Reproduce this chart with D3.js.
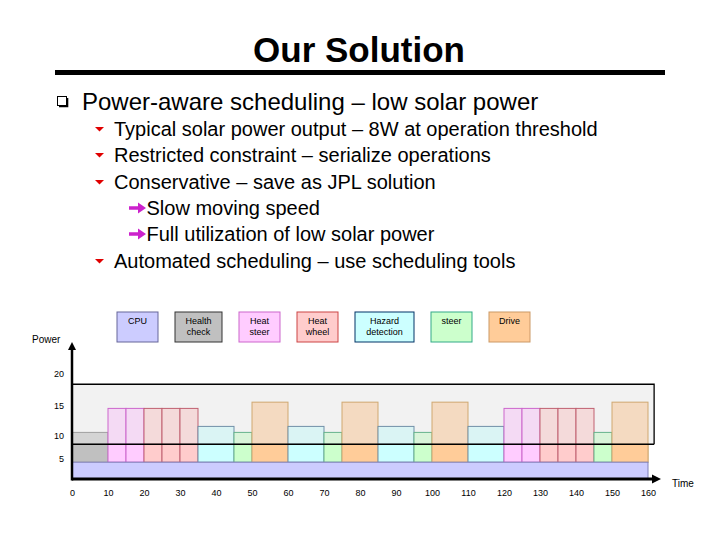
<!DOCTYPE html>
<html>
<head>
<meta charset="utf-8">
<script src="https://cdn.jsdelivr.net/npm/d3@7/dist/d3.min.js"></script>
<style>
  html, body { margin: 0; padding: 0; background: #ffffff; }
  svg { display: block; font-family: "Liberation Sans", Arial, Helvetica, sans-serif; }
</style>
</head>
<body>
<svg id="chart" width="720" height="540"></svg>
<script>
// ---------------- DATA ----------------
const titleText = "Our Solution";
const mainBullet = "Power-aware scheduling – low solar power";
const subBullets = [
  {level: 1, text: "Typical solar power output – 8W at operation threshold"},
  {level: 1, text: "Restricted constraint – serialize operations"},
  {level: 1, text: "Conservative – save as JPL solution"},
  {level: 2, text: "Slow moving speed"},
  {level: 2, text: "Full utilization of low solar power"},
  {level: 1, text: "Automated scheduling – use scheduling tools"}
];

// tasks (legend order) and the power level each one reaches when running
const taskNames  = ["CPU", "Health check", "Heat steer", "Heat wheel", "Hazard detection", "steer", "Drive"];
const taskLabels = [["CPU"], ["Health", "check"], ["Heat", "steer"], ["Heat", "wheel"], ["Hazard", "detection"], ["steer"], ["Drive"]];
const taskTop    = [4.2, 10.6, 14.6, 14.6, 11.6, 10.6, 15.6];

// schedule: each segment runs one task (index into taskNames) from start to end
const segStart = [0, 10, 15, 20, 25, 30, 35, 45, 50, 60, 70, 75, 85, 95, 100, 110, 120, 125, 130, 135, 140, 145, 150];
const segEnd   = [10, 15, 20, 25, 30, 35, 45, 50, 60, 70, 75, 85, 95, 100, 110, 120, 125, 130, 135, 140, 145, 150, 160];
const segTask  = [1, 2, 2, 3, 3, 3, 4, 5, 6, 4, 5, 6, 4, 5, 6, 4, 2, 2, 3, 3, 3, 5, 6];

const cpuStart = 0, cpuEnd = 160;          // CPU always on
const solarThreshold = 8.2;                 // solar power level (W)
const batteryTop = 18.4;                    // upper limit of battery-assisted region
const batteryEnd = 161.7;

const xTicks = [0, 10, 20, 30, 40, 50, 60, 70, 80, 90, 100, 110, 120, 130, 140, 150, 160];
const yTicks = [5, 10, 15, 20];

// ---------------- STYLE ----------------
const taskFill   = ["#ccccff", "#c0c0c0", "#ffccff", "#ffcccc", "#ccffff", "#ccffcc", "#ffcc99"];
const taskStroke = ["#8080b8", "#a0a0a0", "#cc66cc", "#c06070", "#7090a8", "#66b38c", "#d0a870"];
const legendStroke = ["#666699", "#333333", "#cc66cc", "#cc4444", "#003366", "#33aa88", "#cc9966"];
const fadeMix = c => d3.interpolateRgb(c, "#e8e8e8")(0.5);

const svg = d3.select("#chart");
const font = "'Liberation Sans', Arial, Helvetica, sans-serif";

// ---------------- TITLE ----------------
svg.append("text").attr("x", 359).attr("y", 62)
  .attr("text-anchor", "middle").attr("font-size", 35).attr("font-weight", "bold")
  .attr("fill", "#000").text(titleText);
svg.append("rect").attr("x", 55).attr("y", 70).attr("width", 610).attr("height", 5).attr("fill", "#000");

// ---------------- BULLETS ----------------
// square bullet with shadow
svg.append("rect").attr("x", 57.5).attr("y", 96.5).attr("width", 9).attr("height", 9)
  .attr("fill", "#fff").attr("stroke", "#000").attr("stroke-width", 1);
svg.append("path").attr("d", "M59,106.5 L67.5,106.5 L67.5,98").attr("fill", "none")
  .attr("stroke", "#000").attr("stroke-width", 1.6);
svg.append("text").attr("x", 82).attr("y", 109.5).attr("font-size", 24).attr("fill", "#000").text(mainBullet);

const subBase = [136, 162, 189, 215, 241, 268];
subBullets.forEach((b, i) => {
  const by = subBase[i];
  if (b.level === 1) {
    svg.append("path")
      .attr("d", `M95,${by - 9} L104,${by - 9} L99.5,${by - 4.5} Z`)
      .attr("fill", "#e00000");
    svg.append("text").attr("x", 114).attr("y", by).attr("font-size", 20).attr("fill", "#000").text(b.text);
  } else {
    const cy = by - 7;
    svg.append("path")
      .attr("d", `M129,${cy - 1.7} L138,${cy - 1.7} L138,${cy - 5.5} L146,${cy} L138,${cy + 5.5} L138,${cy + 1.7} L129,${cy + 1.7} Z`)
      .attr("fill", "#cc22cc");
    svg.append("text").attr("x", 146.5).attr("y", by).attr("font-size", 20).attr("fill", "#000").text(b.text);
  }
});

// ---------------- LEGEND ----------------
const legendW = [41, 47, 41, 41, 59, 41, 41];
let lx = 117;
taskNames.forEach((name, i) => {
  const g = svg.append("g").attr("transform", `translate(${lx},312)`);
  g.append("rect").attr("width", legendW[i]).attr("height", 30)
    .attr("fill", taskFill[i]).attr("stroke", legendStroke[i]).attr("stroke-width", 1);
  taskLabels[i].forEach((line, j) => {
    g.append("text").attr("x", legendW[i] / 2).attr("y", 12 + j * 11)
      .attr("text-anchor", "middle").attr("font-size", 9).attr("fill", "#000").text(line);
  });
  lx += legendW[i] + 17;
});

// ---------------- CHART ----------------
const x = d3.scaleLinear().domain([0, 160]).range([72, 648]);
// the slide's axis is not evenly spaced: piecewise scale through its tick positions
const y = d3.scaleLinear().domain([0, 5, 10, 15, 20]).range([479, 459, 436, 406, 374]);

// battery-assisted region
svg.append("rect")
  .attr("x", x(0)).attr("y", y(batteryTop))
  .attr("width", x(batteryEnd) - x(0)).attr("height", y(solarThreshold) - y(batteryTop))
  .attr("fill", "#f2f2f2");

const segs = segStart.map((s, i) => ({s, e: segEnd[i], t: segTask[i]}));
const base = taskTop[0];

// upper (battery) part - faded
svg.append("g").selectAll("rect").data(segs).join("rect")
  .attr("x", d => x(d.s)).attr("width", d => x(d.e) - x(d.s))
  .attr("y", d => y(taskTop[d.t])).attr("height", d => y(base) - y(taskTop[d.t]))
  .attr("fill", d => fadeMix(taskFill[d.t]))
  .attr("stroke", d => taskStroke[d.t]).attr("stroke-width", 1);

// lower (solar) part - full colour
svg.append("g").selectAll("rect").data(segs).join("rect")
  .attr("x", d => x(d.s)).attr("width", d => x(d.e) - x(d.s))
  .attr("y", y(solarThreshold)).attr("height", y(base) - y(solarThreshold))
  .attr("fill", d => taskFill[d.t])
  .attr("stroke", d => taskStroke[d.t]).attr("stroke-width", 1);

// CPU base
svg.append("rect")
  .attr("x", x(cpuStart)).attr("y", y(base))
  .attr("width", x(cpuEnd) - x(cpuStart)).attr("height", y(0) - y(base))
  .attr("fill", taskFill[0]).attr("stroke", taskStroke[0]).attr("stroke-width", 1);

// battery region outline (top + right) and threshold line
svg.append("path")
  .attr("d", `M${x(0)},${y(batteryTop)} L${x(batteryEnd)},${y(batteryTop)} L${x(batteryEnd)},${y(solarThreshold)}`)
  .attr("fill", "none").attr("stroke", "#000").attr("stroke-width", 1.3);
svg.append("line")
  .attr("x1", x(0)).attr("x2", x(batteryEnd))
  .attr("y1", y(solarThreshold)).attr("y2", y(solarThreshold))
  .attr("stroke", "#000").attr("stroke-width", 1.5);

// axes (drawn with d3 axis generators, domain lines removed and replaced by arrows)
const xAxis = svg.append("g").attr("transform", `translate(0,${y(0) + 11})`)
  .call(d3.axisBottom(x).tickValues(xTicks).tickSize(0).tickPadding(0).tickFormat(d3.format("d")));
xAxis.select(".domain").remove();
xAxis.selectAll("text").attr("font-size", 9).attr("font-family", font).attr("fill", "#000");

const yAxis = svg.append("g").attr("transform", `translate(64,0)`)
  .call(d3.axisLeft(y).tickValues(yTicks).tickSize(0).tickPadding(0).tickFormat(d3.format("d")));
yAxis.select(".domain").remove();
yAxis.selectAll("text").attr("font-size", 9).attr("font-family", font).attr("fill", "#000");

// axis lines with arrowheads
svg.append("line").attr("x1", x(0)).attr("x2", 654).attr("y1", y(0)).attr("y2", y(0))
  .attr("stroke", "#000").attr("stroke-width", 3);
svg.append("path").attr("d", `M652,${y(0) - 4.5} L661,${y(0)} L652,${y(0) + 4.5} Z`).attr("fill", "#000");
svg.append("line").attr("x1", x(0)).attr("x2", x(0)).attr("y1", y(0) + 1.5).attr("y2", 349)
  .attr("stroke", "#000").attr("stroke-width", 2.5);
svg.append("path").attr("d", `M${x(0) - 4},350 L${x(0)},342 L${x(0) + 4},350 Z`).attr("fill", "#000");

svg.append("text").attr("x", 32).attr("y", 343).attr("font-size", 10).attr("fill", "#000").text("Power");
svg.append("text").attr("x", 672).attr("y", 487).attr("font-size", 10).attr("fill", "#000").text("Time");
</script>
</body>
</html>
